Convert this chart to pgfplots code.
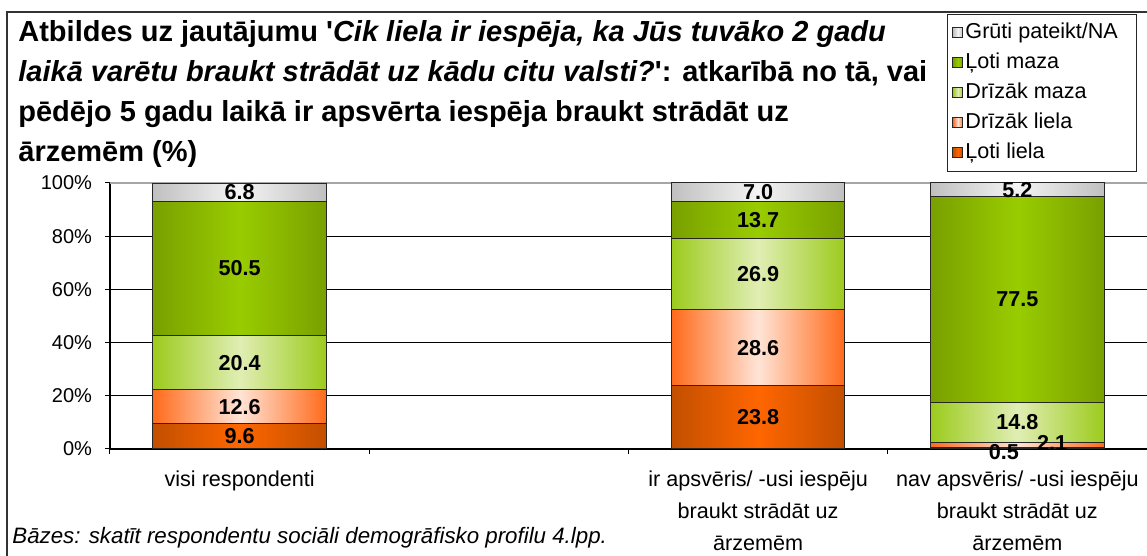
\documentclass[border=0pt]{standalone}
\usepackage{pgfplots}
\pgfplotsset{compat=1.18}
\usepackage{pgfplotstable}
\usepackage{fontspec}
\setmainfont{Liberation Sans}

\definecolor{llE}{HTML}{C24F00}
\definecolor{llM}{HTML}{FF6600}
\definecolor{dlE}{HTML}{FF6A1A}
\definecolor{dlM}{HTML}{FFE4D6}
\definecolor{dmE}{HTML}{9CCB1C}
\definecolor{dmM}{HTML}{E0EEB4}
\definecolor{lmE}{HTML}{79A000}
\definecolor{lmM}{HTML}{99CC00}
\definecolor{grE}{HTML}{C0C0C0}
\definecolor{grM}{HTML}{F4F4F4}

% one small table per category (group)
\pgfplotstableread{
x ll dl dm lm gr
0 9.6 12.6 20.4 50.5 6.8
}\catA
\pgfplotstableread{
x ll dl dm lm gr
2 23.8 28.6 26.9 13.7 7.0
}\catB
\pgfplotstableread{
x ll dl dm lm gr
3 0.5 2.1 14.8 77.5 5.2
}\catC

% value labels (centre of each segment)
\pgfplotstableread{
x y lab
0 4.8 9.6
0 15.9 12.6
0 32.4 20.4
0 67.85 50.5
0 96.5 6.8
2 11.9 23.8
2 38.1 28.6
2 65.85 26.9
2 86.15 13.7
2 96.5 7.0
2.948 -1.1 0.5
3.134 2.3 2.1
3 10.0 14.8
3 56.15 77.5
3 97.5 5.2
}\labs

\pgfplotsset{
  common/.style={scale only axis, width=518.5pt, height=133pt,
    xmin=-0.5, xmax=3.5, ymin=0, ymax=100},
  barax/.style={common, hide axis, ybar stacked, bar width=0.67},
  sLL/.style={draw=black!85, line width=0.5pt, left color=llE, right color=llE, middle color=llM},
  sDL/.style={draw=black!85, line width=0.5pt, left color=dlE, right color=dlE, middle color=dlM},
  sDM/.style={draw=black!85, line width=0.5pt, left color=dmE, right color=dmE, middle color=dmM},
  sLM/.style={draw=black!85, line width=0.5pt, left color=lmE, right color=lmE, middle color=lmM},
  sGR/.style={draw=black!85, line width=0.5pt, left color=grE, right color=grE, middle color=grM},
}

\newcommand{\stackbars}[1]{%
\begin{axis}[barax]
\addplot[sLL] table[x=x,y=ll]{#1};
\addplot[sDL] table[x=x,y=dl]{#1};
\addplot[sDM] table[x=x,y=dm]{#1};
\addplot[sLM] table[x=x,y=lm]{#1};
\addplot[sGR] table[x=x,y=gr]{#1};
\end{axis}}

\begin{document}
\begin{tikzpicture}
\useasboundingbox (-55pt,-53.5pt) rectangle (518.5pt,224.5pt);
% chart frame
\draw[black!80, line width=0.75pt] (-51.5pt,-60pt) -- (-51.5pt,218.5pt) -- (525pt,218.5pt);
% title
\begin{scope}[every node/.style={anchor=base west, inner sep=0pt, font=\fontsize{14.5}{20}\selectfont\bfseries}]
\node at (-46pt,203.5pt) {Atbildes uz jautājumu \textquotesingle\textit{Cik liela ir iespēja, ka Jūs tuvāko 2 gadu}};
\node at (-46pt,183.5pt) {\textit{laikā varētu braukt strādāt uz kādu citu valsti?}\textquotesingle: atkarībā no tā, vai};
\node at (-46pt,163.5pt) {pēdējo 5 gadu laikā ir apsvērta iespēja braukt strādāt uz};
\node at (-46pt,143.5pt) {ārzemēm (\%)};
\end{scope}
% footnote
\node[anchor=base west, inner sep=0pt, font=\fontsize{11.15}{13}\selectfont\itshape] at (-49pt,-47.5pt) {Bāzes: skatīt respondentu sociāli demogrāfisko profilu 4.lpp.};

\begin{axis}[
  common,
  axis x line*=bottom, axis y line*=left,
  axis line style={-, black, line width=0.6pt},
  ytick={0,20,...,100},
  yticklabels={0\%,20\%,40\%,60\%,80\%,100\%},
  minor ytick={0,20,...,100},
  xtick={0,2,3},
  xticklabels={visi respondenti,{ir apsvēris/ -usi iespēju\\braukt strādāt uz\\ārzemēm},{nav apsvēris/ -usi iespēju\\braukt strādāt uz\\ārzemēm}},
  minor xtick={-0.5,0.5,1.5,2.5},
  major tick length=0pt, minor tick length=2.5pt, tick align=outside,
  minor tick style={black, line width=0.5pt},
  ymajorgrids, major grid style={black, line width=0.5pt},
  minor grid style={draw=none},
  yticklabel style={font=\fontsize{10}{12}\selectfont, xshift=-5.5pt},
  xticklabel style={font=\fontsize{10.8}{16}\selectfont, align=center, yshift=-7.5pt},
  legend image code/.code={\draw[#1,line width=0.5pt] (0pt,-2.5pt) rectangle (5pt,2.5pt);},
  legend cell align=left,
  legend style={at={(0.807,1.637)}, anchor=north west, draw=black!85, line width=0.6pt,
    font=\fontsize{10.8}{12}\selectfont, inner xsep=2.5pt, inner ysep=3pt, row sep=2.5pt,
    nodes={inner sep=1pt, text height=8pt, text depth=2.5pt},
    /tikz/every even column/.append style={column sep=2pt}},
]
\addlegendimage{sGR}
\addlegendentry{\makebox[82pt][l]{Grūti pateikt/NA}}
\addlegendimage{sLM}
\addlegendentry{\makebox[82pt][l]{Ļoti maza}}
\addlegendimage{sDM}
\addlegendentry{\makebox[82pt][l]{Drīzāk maza}}
\addlegendimage{sDL}
\addlegendentry{\makebox[82pt][l]{Drīzāk liela}}
\addlegendimage{sLL}
\addlegendentry{\makebox[82pt][l]{Ļoti liela}}
\draw[gray!70, line width=0.6pt] (rel axis cs:0,1) -- (rel axis cs:1.02,1);
\end{axis}

\stackbars{\catA}
\stackbars{\catB}
\stackbars{\catC}

\begin{axis}[common, hide axis, clip=false]
\addplot[only marks, mark=none, nodes near coords, point meta=explicit symbolic,
  every node near coord/.append style={anchor=center, inner sep=0pt, font=\fontsize{10.8}{12}\selectfont\bfseries}]
  table[x=x,y=y,meta=lab]{\labs};
\end{axis}
\end{tikzpicture}
\end{document}
